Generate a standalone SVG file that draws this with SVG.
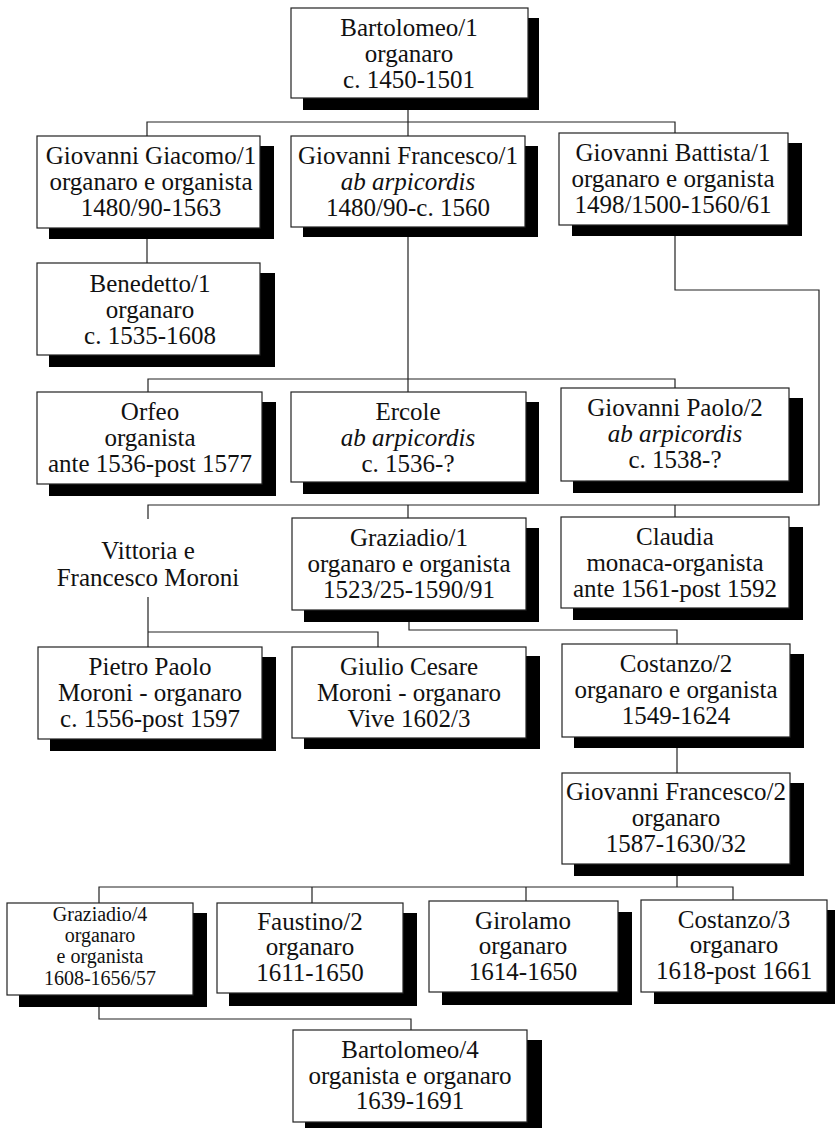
<svg xmlns="http://www.w3.org/2000/svg" width="835" height="1128" viewBox="0 0 835 1128">
<style>
.sh{fill:#000}
.bx{fill:#fff;stroke:#222;stroke-width:1.2}
text{font-family:"Liberation Serif","Times New Roman",serif;font-size:25px;fill:#111;text-anchor:middle}
.it{font-style:italic}
.sm{font-size:20px}
.cn{fill:none;stroke:#222;stroke-width:1.2}
</style>
<rect width="835" height="1128" fill="#fff"/>
<g id="connectors" class="cn">
<path d="M408,98 V136 M147,136 V122 H675 V133"/>
<path d="M147,228 V263"/>
<path d="M408,227 V392 M148,392 V379 H675 V388"/>
<path d="M675,225 V290 H819 V505 H148 V519 M408,505 V518 M675,505 V517"/>
<path d="M148,597 V647 M148,632 H378 V647"/>
<path d="M409,610 V630 H677 V644"/>
<path d="M677,737 V773"/>
<path d="M677,864 V887 M99,903 V887 H733 V900 M312,887 V903 M526,887 V901"/>
<path d="M99,995 V1019 H411 V1030"/>
</g>
<g id="bartolomeo1">
<rect class="sh" x="303" y="18" width="236" height="92"/>
<rect class="bx" x="291" y="8" width="237" height="90"/>
<text x="409" y="36">Bartolomeo/1</text>
<text x="409" y="62">organaro</text>
<text x="409" y="88">c. 1450-1501</text>
</g>
<g id="giovanniGiacomo1">
<rect class="sh" x="49" y="146" width="225" height="93"/>
<rect class="bx" x="37" y="136" width="223" height="92"/>
<text x="151" y="164">Giovanni Giacomo/1</text>
<text x="151" y="190">organaro e organista</text>
<text x="151" y="216">1480/90-1563</text>
</g>
<g id="giovanniFrancesco1">
<rect class="sh" x="303" y="146" width="235" height="91"/>
<rect class="bx" x="291" y="136" width="234" height="91"/>
<text x="408" y="164">Giovanni Francesco/1</text>
<text x="408" y="190" class="it">ab arpicordis</text>
<text x="408" y="216">1480/90-c. 1560</text>
</g>
<g id="giovanniBattista1">
<rect class="sh" x="572" y="143" width="230" height="93"/>
<rect class="bx" x="559" y="133" width="229" height="92"/>
<text x="673" y="161">Giovanni Battista/1</text>
<text x="673" y="187">organaro e organista</text>
<text x="673" y="213">1498/1500-1560/61</text>
</g>
<g id="benedetto1">
<rect class="sh" x="49" y="273" width="226" height="94"/>
<rect class="bx" x="37" y="263" width="223" height="92"/>
<text x="150" y="292">Benedetto/1</text>
<text x="150" y="318">organaro</text>
<text x="150" y="344">c. 1535-1608</text>
</g>
<g id="orfeo">
<rect class="sh" x="49" y="402" width="227" height="94"/>
<rect class="bx" x="37" y="392" width="225" height="92"/>
<text x="150" y="420">Orfeo</text>
<text x="150" y="446">organista</text>
<text x="150" y="472">ante 1536-post 1577</text>
</g>
<g id="ercole">
<rect class="sh" x="303" y="402" width="236" height="92"/>
<rect class="bx" x="291" y="392" width="235" height="90"/>
<text x="408" y="420">Ercole</text>
<text x="408" y="446" class="it">ab arpicordis</text>
<text x="408" y="472">c. 1536-?</text>
</g>
<g id="giovanniPaolo2">
<rect class="sh" x="573" y="398" width="230" height="95"/>
<rect class="bx" x="561" y="388" width="228" height="93"/>
<text x="675" y="416">Giovanni Paolo/2</text>
<text x="675" y="442" class="it">ab arpicordis</text>
<text x="675" y="468">c. 1538-?</text>
</g>
<g id="vittoriaFrancescoMoroni">
<text x="148" y="559">Vittoria e</text>
<text x="148" y="586">Francesco Moroni</text>
</g>
<g id="graziadio1">
<rect class="sh" x="304" y="528" width="235" height="94"/>
<rect class="bx" x="292" y="518" width="234" height="92"/>
<text x="409" y="546">Graziadio/1</text>
<text x="409" y="572">organaro e organista</text>
<text x="409" y="598">1523/25-1590/91</text>
</g>
<g id="claudia">
<rect class="sh" x="573" y="527" width="230" height="93"/>
<rect class="bx" x="561" y="517" width="228" height="91"/>
<text x="675" y="545">Claudia</text>
<text x="675" y="571">monaca-organista</text>
<text x="675" y="597">ante 1561-post 1592</text>
</g>
<g id="pietroPaolo">
<rect class="sh" x="50" y="657" width="226" height="94"/>
<rect class="bx" x="38" y="647" width="224" height="92"/>
<text x="150" y="675">Pietro Paolo</text>
<text x="150" y="701">Moroni - organaro</text>
<text x="150" y="727">c. 1556-post 1597</text>
</g>
<g id="giulioCesare">
<rect class="sh" x="304" y="656" width="236" height="93"/>
<rect class="bx" x="292" y="647" width="234" height="91"/>
<text x="409" y="675">Giulio Cesare</text>
<text x="409" y="701">Moroni - organaro</text>
<text x="409" y="727">Vive 1602/3</text>
</g>
<g id="costanzo2">
<rect class="sh" x="574" y="654" width="230" height="94"/>
<rect class="bx" x="562" y="644" width="228" height="93"/>
<text x="676" y="672">Costanzo/2</text>
<text x="676" y="698">organaro e organista</text>
<text x="676" y="724">1549-1624</text>
</g>
<g id="giovanniFrancesco2">
<rect class="sh" x="574" y="783" width="230" height="93"/>
<rect class="bx" x="562" y="773" width="228" height="91"/>
<text x="676" y="800">Giovanni Francesco/2</text>
<text x="676" y="826">organaro</text>
<text x="676" y="852">1587-1630/32</text>
</g>
<g id="graziadio4">
<rect class="sh" x="19" y="913" width="188" height="94"/>
<rect class="bx" x="7" y="903" width="186" height="92"/>
<text x="100" y="921" class="sm">Graziadio/4</text>
<text x="100" y="942" class="sm">organaro</text>
<text x="100" y="963" class="sm">e organista</text>
<text x="100" y="985" class="sm">1608-1656/57</text>
</g>
<g id="faustino2">
<rect class="sh" x="229" y="913" width="188" height="93"/>
<rect class="bx" x="217" y="903" width="186" height="90"/>
<text x="310" y="930">Faustino/2</text>
<text x="310" y="955">organaro</text>
<text x="310" y="981">1611-1650</text>
</g>
<g id="girolamo">
<rect class="sh" x="442" y="912" width="190" height="93"/>
<rect class="bx" x="429" y="901" width="189" height="91"/>
<text x="523" y="929">Girolamo</text>
<text x="523" y="954">organaro</text>
<text x="523" y="980">1614-1650</text>
</g>
<g id="costanzo3">
<rect class="sh" x="654" y="910" width="190" height="94"/>
<rect class="bx" x="641" y="900" width="186" height="92"/>
<text x="734" y="928">Costanzo/3</text>
<text x="734" y="953">organaro</text>
<text x="734" y="979">1618-post 1661</text>
</g>
<g id="bartolomeo4">
<rect class="sh" x="305" y="1040" width="237" height="94"/>
<rect class="bx" x="293" y="1030" width="234" height="92"/>
<text x="410" y="1058">Bartolomeo/4</text>
<text x="410" y="1084">organista e organaro</text>
<text x="410" y="1109">1639-1691</text>
</g>
</svg>
